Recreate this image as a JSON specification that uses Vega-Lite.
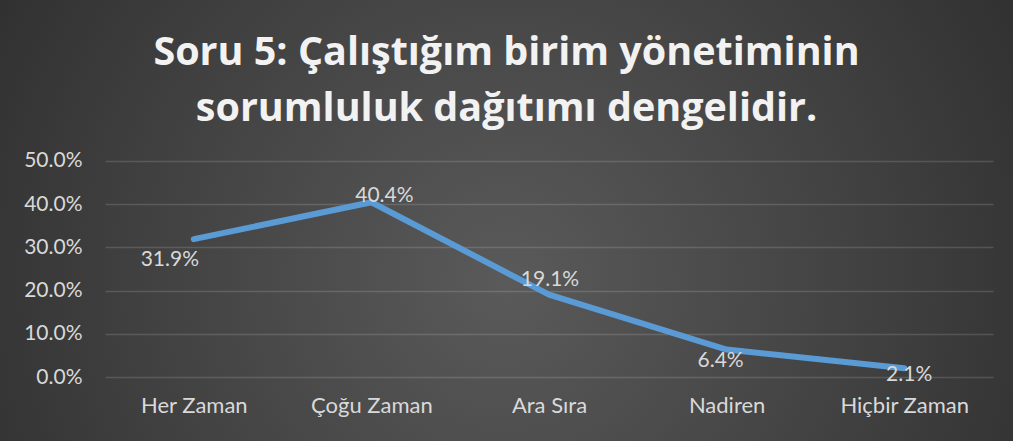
{
  "$schema": "https://vega.github.io/schema/vega-lite/v6.json",
  "width": 1013,
  "height": 441,
  "autosize": {"type": "none"},
  "padding": 0,
  "background": "#2e2e2e",
  "config": {
    "view": {
      "stroke": null,
      "fill": {
        "gradient": "radial",
        "x1": 0.5, "y1": 0.56, "r1": 0,
        "x2": 0.5, "y2": 0.56, "r2": 0.72,
        "stops": [
          {"offset": 0, "color": "#5a5a5a"},
          {"offset": 0.55, "color": "#3e3e3e"},
          {"offset": 1, "color": "#262626"}
        ]
      }
    }
  },
  "title": {
    "text": ["Soru 5: Çalıştığım birim yönetiminin", "sorumluluk dağıtımı dengelidir."],
    "font": "Open Sans",
    "fontSize": 39.5,
    "fontWeight": "bold",
    "color": "#f2f2f2",
    "lineHeight": 56,
    "anchor": "middle",
    "frame": "group",
    "baseline": "top",
    "offset": -129
  },
  "data": {
    "values": [
      {"k": "Her Zaman", "v": 0.319},
      {"k": "Çoğu Zaman", "v": 0.404},
      {"k": "Ara Sıra", "v": 0.191},
      {"k": "Nadiren", "v": 0.064},
      {"k": "Hiçbir Zaman", "v": 0.021}
    ]
  },
  "encoding": {
    "x": {
      "field": "k",
      "type": "nominal",
      "sort": null,
      "scale": {"type": "point", "range": [105, 993], "padding": 0.5},
      "axis": {
        "title": null,
        "domain": false,
        "ticks": false,
        "grid": false,
        "offset": -49,
        "labelPadding": 3,
        "labelAngle": 0,
        "labelFont": "Lato",
        "labelFontSize": 22,
        "labelColor": "#d9d9d9"
      }
    },
    "y": {
      "field": "v",
      "type": "quantitative",
      "scale": {"domain": [0, 0.5], "range": [377.3, 160.7], "nice": false, "zero": false},
      "axis": {
        "title": null,
        "values": [0, 0.1, 0.2, 0.3, 0.4, 0.5],
        "format": ".1%",
        "domain": false,
        "ticks": false,
        "offset": -86,
        "labelPadding": 4,
        "labelFont": "Lato",
        "labelFontSize": 21,
        "labelColor": "#d9d9d9",
        "gridColor": "#ffffff",
        "gridOpacity": 0.14,
        "gridWidth": 1.5
      }
    }
  },
  "layer": [
    {
      "mark": {"type": "line", "color": "#5B9BD5", "strokeWidth": 6, "strokeCap": "round", "strokeJoin": "round"}
    },
    {
      "transform": [{"filter": "datum.k === 'Her Zaman'"}],
      "mark": {"type": "text", "dx": -24, "dy": 21, "font": "Lato", "fontSize": 21, "color": "#d9d9d9", "align": "center", "baseline": "middle"},
      "encoding": {"text": {"field": "v", "type": "quantitative", "format": ".1%"}}
    },
    {
      "transform": [{"filter": "datum.k === 'Çoğu Zaman'"}],
      "mark": {"type": "text", "dx": 13, "dy": -6, "font": "Lato", "fontSize": 21, "color": "#d9d9d9", "align": "center", "baseline": "middle"},
      "encoding": {"text": {"field": "v", "type": "quantitative", "format": ".1%"}}
    },
    {
      "transform": [{"filter": "datum.k === 'Ara Sıra'"}],
      "mark": {"type": "text", "dx": 1, "dy": -15, "font": "Lato", "fontSize": 21, "color": "#d9d9d9", "align": "center", "baseline": "middle"},
      "encoding": {"text": {"field": "v", "type": "quantitative", "format": ".1%"}}
    },
    {
      "transform": [{"filter": "datum.k === 'Nadiren'"}],
      "mark": {"type": "text", "dx": -6, "dy": 11, "font": "Lato", "fontSize": 21, "color": "#d9d9d9", "align": "center", "baseline": "middle"},
      "encoding": {"text": {"field": "v", "type": "quantitative", "format": ".1%"}}
    },
    {
      "transform": [{"filter": "datum.k === 'Hiçbir Zaman'"}],
      "mark": {"type": "text", "dx": 5, "dy": 7, "font": "Lato", "fontSize": 21, "color": "#d9d9d9", "align": "center", "baseline": "middle"},
      "encoding": {"text": {"field": "v", "type": "quantitative", "format": ".1%"}}
    }
  ]
}
